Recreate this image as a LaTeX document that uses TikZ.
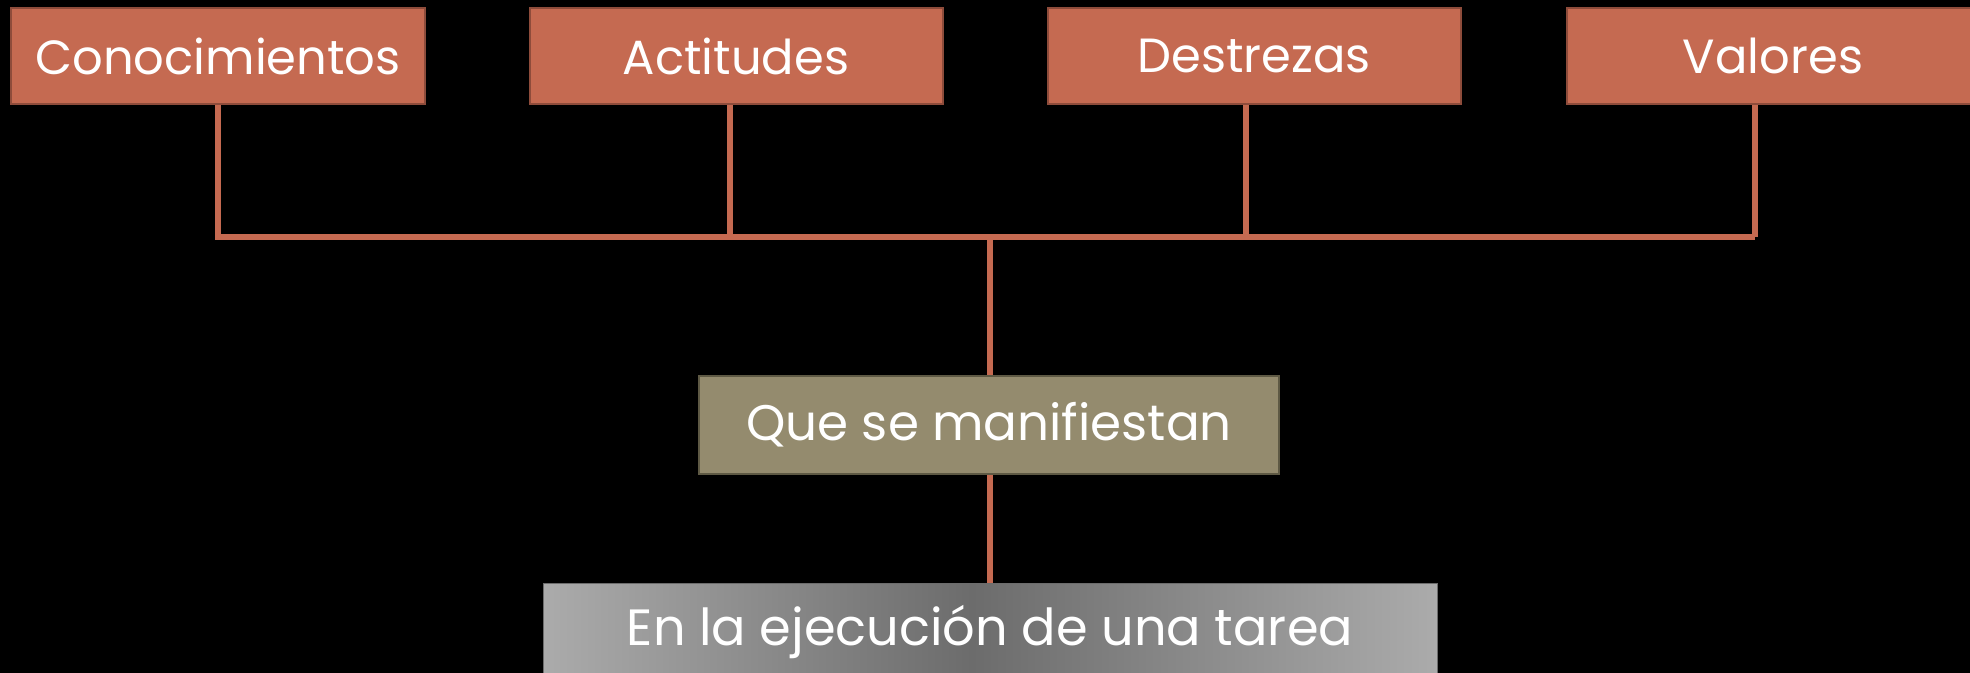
\documentclass[tikz,border=0pt]{standalone}
\usepackage{fontspec}
\setmainfont{Poppins}
\definecolor{terra}{HTML}{C56A51}
\definecolor{terraedge}{HTML}{8E4C3B}
\definecolor{olive}{HTML}{948B6E}
\definecolor{oliveedge}{HTML}{5E5944}
\definecolor{lightg}{HTML}{ABABAB}
\definecolor{darkg}{HTML}{6C6C6C}
\pgfdeclarehorizontalshading{tarea}{100bp}{color(0bp)=(lightg); color(25bp)=(lightg); color(49bp)=(darkg); color(75bp)=(lightg); color(100bp)=(lightg)}
\tikzset{
  topbox/.style={draw=terraedge, line width=2bp, fill=terra, minimum width=413bp, minimum height=96bp, inner sep=0pt, text=white, font=\fontsize{48bp}{52bp}\selectfont},
  midbox/.style={draw=oliveedge, line width=2bp, fill=olive, minimum width=580bp, minimum height=98bp, inner sep=0pt, text=white, font=\fontsize{50bp}{54bp}\selectfont},
  lowbox/.style={draw=darkg, line width=1bp, shading=tarea, minimum width=894bp, minimum height=98bp, inner sep=0pt, text=white, font=\fontsize{51bp}{55bp}\selectfont},
  conn/.style={draw=terra, line width=5.5bp}
}
\begin{document}
\begin{tikzpicture}[x=1bp,y=-1bp]
\useasboundingbox (0,0) rectangle (1970,673);
\fill[black] (0,0) rectangle (1970,673);
\clip (0,0) rectangle (1970,673);
\node[topbox] (c) at (218,56) {\raisebox{-7bp}{Conocimientos}};
\node[topbox] (a) at (736,56) {\raisebox{-7bp}{Actitudes}};
\node[topbox] (d) at (1254,56) {\raisebox{-7bp}{Destrezas}};
\node[topbox] (v) at (1773,56) {\raisebox{-7bp}{Valores}};
\coordinate (bl) at (218,237);
\coordinate (br) at (1755,237);
\coordinate (bm) at (990,237);
\node[midbox] (q) at (989,425) {\raisebox{-7bp}{Que se manifiestan}};
\node[lowbox] (t) at (990,632) {\raisebox{5bp}{En la ejecución de una tarea}};
\draw[conn] (c.south) -- (bl) -- (br);
\draw[conn] ([xshift=-6bp]a.south) -- ([xshift=-6bp]a.south |- bl);
\draw[conn] ([xshift=-8bp]d.south) -- ([xshift=-8bp]d.south |- bl);
\draw[conn] (br) -- (br |- v.south);
\draw[conn] (bm) -- (q.north -| bm);
\draw[conn] (q.south -| bm) -- (t.north -| bm);
\end{tikzpicture}
\end{document}
